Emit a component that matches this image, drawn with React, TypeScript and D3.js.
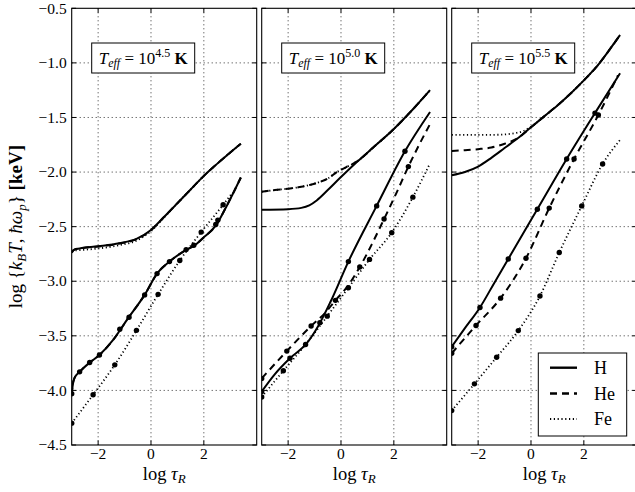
import React from "react";
import * as d3 from "d3";

// ---------- data (log tau_R, log E [keV]) ----------
const xTicks = [-2, 0, 2];
const xTickLabels = ["−2", "0", "2"];
const yTicks = [-0.5, -1.0, -1.5, -2.0, -2.5, -3.0, -3.5, -4.0, -4.5];
const yTickLabels = ["−0.5", "−1.0", "−1.5", "−2.0", "−2.5", "−3.0", "−3.5", "−4.0", "−4.5"];
const teffExponents = ["4.5", "5.0", "5.5"];
const speciesNames = ["H", "He", "Fe"];

// Panel 1: Teff = 10^4.5 K
const p1_H_kT = [[-3, -2.74], [-2.9, -2.71], [-2.7, -2.7], [-2, -2.68], [-1.2, -2.652], [-0.55, -2.612], [0, -2.53], [0.5, -2.41], [1, -2.285], [1.5, -2.16], [2, -2.035], [2.5, -1.925], [3, -1.82], [3.4, -1.74]];
const p1_He_kT = [[-3, -2.735], [-2.9, -2.71], [-2.7, -2.7], [-2, -2.682], [-1.2, -2.655], [-0.55, -2.615], [0, -2.532], [0.5, -2.41], [1, -2.285], [1.5, -2.16], [2, -2.035], [2.5, -1.925], [3, -1.82], [3.4, -1.74]];
const p1_Fe_kT = [[-3, -2.72], [-2.7, -2.715], [-2, -2.7], [-1.2, -2.67], [-0.55, -2.628], [0, -2.54], [0.5, -2.415], [1, -2.285], [1.5, -2.16], [2, -2.035], [2.5, -1.925], [3, -1.82], [3.4, -1.74]];
const p1_H_wp = [[-3, -4.05], [-2.97, -3.97], [-2.9, -3.89], [-2.7, -3.83], [-2.32, -3.745], [-1.95, -3.675], [-1.44, -3.54], [-0.87, -3.34], [-0.24, -3.125], [0.23, -2.93], [0.7, -2.82], [1.33, -2.713], [1.65, -2.672], [1.96, -2.606], [2.47, -2.484], [2.85, -2.317], [3.17, -2.164], [3.4, -2.05]];
const p1_He_wp = [[-3, -4.04], [-2.97, -3.96], [-2.9, -3.89], [-2.7, -3.83], [-2.32, -3.745], [-1.95, -3.675], [-1.44, -3.54], [-0.87, -3.34], [-0.24, -3.125], [0.23, -2.93], [0.7, -2.82], [1.33, -2.713], [1.65, -2.672], [1.96, -2.606], [2.47, -2.484], [2.85, -2.317], [3.17, -2.164], [3.4, -2.05]];
const p1_Fe_wp = [[-3, -4.3], [-2.19, -4.04], [-1.37, -3.766], [-0.55, -3.45], [0.27, -3.12], [1.09, -2.81], [1.9, -2.55], [2.73, -2.3], [3.05, -2.2]];
const p1_H_mk = [[-3, -4.03], [-1.95, -3.675], [-0.83, -3.33], [0.23, -2.93], [1.33, -2.71], [2.45, -2.48]];
const p1_He_mk = [[-2.7, -3.83], [-2.32, -3.745], [-1.18, -3.44], [-0.24, -3.125], [0.7, -2.82], [1.62, -2.67], [2.53, -2.44]];
const p1_Fe_mk = [[-3, -4.3], [-2.19, -4.04], [-1.37, -3.766], [-0.55, -3.45], [0.27, -3.12], [1.09, -2.81], [1.9, -2.55], [2.73, -2.3]];

// Panel 2: Teff = 10^5.0 K
const p2_H_kT = [[-3, -2.345], [-2, -2.34], [-1.5, -2.328], [-1.2, -2.305], [-0.92, -2.26], [-0.5, -2.165], [-0.04, -2.055], [0.59, -1.91], [1.29, -1.76], [1.98, -1.61], [2.74, -1.42], [3.37, -1.25]];
const p2_He_kT = [[-3, -2.18], [-2.5, -2.165], [-1.93, -2.15], [-1.5, -2.135], [-0.92, -2.1], [-0.5, -2.06], [-0.16, -2.0], [0.2, -1.955], [0.59, -1.905], [1.29, -1.76], [1.98, -1.61], [2.74, -1.42], [3.37, -1.25]];
const p2_Fe_kT = [[-3, -2.18], [-2.5, -2.165], [-1.93, -2.15], [-1.5, -2.135], [-0.92, -2.1], [-0.5, -2.06], [-0.16, -2.0], [0.2, -1.955], [0.59, -1.905], [1.29, -1.76], [1.98, -1.61], [2.74, -1.42], [3.37, -1.25]];
const p2_H_wp = [[-3, -4.01], [-2.5, -3.85], [-1.93, -3.705], [-1.3, -3.57], [-0.86, -3.41], [-0.4, -3.19], [0.28, -2.82], [1.35, -2.31], [2.42, -1.81], [3.37, -1.45]];
const p2_He_wp = [[-3, -3.89], [-2.05, -3.64], [-1.13, -3.41], [-0.6, -3.29], [-0.21, -3.175], [0.24, -3.05], [0.71, -2.87], [1.17, -2.66], [1.63, -2.43], [2.1, -2.19], [2.55, -1.95], [3.0, -1.73], [3.37, -1.56]];
const p2_Fe_wp = [[-3, -4.06], [-2.18, -3.82], [-1.34, -3.58], [-0.52, -3.32], [0.28, -3.06], [1.08, -2.8], [1.92, -2.555], [2.72, -2.23], [3.37, -1.92]];
const p2_H_mk = [[-3, -4.01], [-1.93, -3.705], [-0.8, -3.38], [0.28, -2.82], [1.35, -2.31], [2.42, -1.81]];
const p2_He_mk = [[-3, -3.89], [-2.05, -3.64], [-1.13, -3.41], [-0.21, -3.175], [0.71, -2.87], [1.63, -2.43], [2.55, -1.95]];
const p2_Fe_mk = [[-3, -4.06], [-2.18, -3.82], [-1.34, -3.58], [-0.52, -3.32], [0.28, -3.06], [1.08, -2.8], [1.92, -2.555], [2.72, -2.23]];

// Panel 3: Teff = 10^5.5 K
const p3_H_kT = [[-3, -2.03], [-2.5, -2.0], [-2, -1.95], [-1.5, -1.87], [-1, -1.78], [-0.5, -1.69], [0, -1.59], [0.5, -1.49], [1, -1.39], [1.5, -1.28], [2, -1.16], [2.5, -1.03], [3, -0.87], [3.37, -0.745]];
const p3_He_kT = [[-3, -1.807], [-2.5, -1.8], [-2, -1.79], [-1.5, -1.775], [-1.05, -1.745], [-0.75, -1.72], [-0.5, -1.69], [0, -1.59], [0.5, -1.49], [1, -1.39], [1.5, -1.28], [2, -1.16], [2.5, -1.03], [3, -0.87], [3.37, -0.745]];
const p3_Fe_kT = [[-3, -1.66], [-2, -1.66], [-1.2, -1.658], [-0.54, -1.64], [-0.3, -1.625], [-0.1, -1.6], [0.1, -1.57], [0.3, -1.53], [0.5, -1.49], [1, -1.39], [1.5, -1.28], [2, -1.16], [2.5, -1.03], [3, -0.87], [3.37, -0.745]];
const p3_H_wp = [[-3, -3.6], [-2.5, -3.43], [-1.93, -3.24], [-1.4, -3.02], [-0.86, -2.796], [0.24, -2.34], [1.35, -1.88], [2.42, -1.46], [3.37, -1.095]];
const p3_He_wp = [[-3, -3.66], [-2.08, -3.405], [-1.15, -3.155], [-0.19, -2.79], [0.69, -2.33], [1.63, -1.88], [2.55, -1.477], [3.3, -1.11]];
const p3_Fe_wp = [[-3, -4.185], [-2.14, -3.94], [-1.3, -3.696], [-0.48, -3.452], [0.34, -3.135], [1.07, -2.737], [1.92, -2.31], [2.71, -1.926], [3.37, -1.706]];
const p3_H_mk = [[-3, -3.6], [-1.93, -3.24], [-0.86, -2.796], [0.24, -2.34], [1.35, -1.88], [2.42, -1.46]];
const p3_He_mk = [[-3, -3.66], [-2.08, -3.405], [-1.15, -3.155], [-0.19, -2.79], [0.69, -2.33], [1.63, -1.88], [2.55, -1.477]];
const p3_Fe_mk = [[-3, -4.185], [-2.14, -3.94], [-1.3, -3.696], [-0.48, -3.452], [0.34, -3.135], [1.07, -2.737], [1.92, -2.31], [2.71, -1.926]];

const panelData = [
  { exp: teffExponents[0], kT: [p1_H_kT, p1_He_kT, p1_Fe_kT], wp: [p1_H_wp, p1_He_wp, p1_Fe_wp], mk: [p1_H_mk, p1_He_mk, p1_Fe_mk] },
  { exp: teffExponents[1], kT: [p2_H_kT, p2_He_kT, p2_Fe_kT], wp: [p2_H_wp, p2_He_wp, p2_Fe_wp], mk: [p2_H_mk, p2_He_mk, p2_Fe_mk] },
  { exp: teffExponents[2], kT: [p3_H_kT, p3_He_kT, p3_Fe_kT], wp: [p3_H_wp, p3_He_wp, p3_Fe_wp], mk: [p3_H_mk, p3_He_mk, p3_Fe_mk] },
];

// ---------- layout & style ----------
const W = 635, H = 492;
const panelLefts = [71.7, 261.7, 451.7];
const panelW = 185;
const top = 8.3, bottom = 445;
const FONT = "Liberation Serif, DejaVu Serif, serif";
const txt = { fontFamily: FONT, whiteSpace: "pre" as const };
const lineStyles = [
  { dash: null, width: 2 },
  { dash: "7,5", width: 2 },
  { dash: "1.2,2.6", width: 1.8 },
];
const drawOrder = [2, 1, 0];

function Panel({ idx, data }) {
  const left = panelLefts[idx];
  const x = d3.scaleLinear().domain([-3, 4]).range([left, left + panelW]);
  const y = d3.scaleLinear().domain([-4.5, -0.5]).range([bottom, top]);
  const line = d3.line().x((d) => x(d[0])).y((d) => y(d[1])).curve(d3.curveMonotoneX);
  const clipId = `clip${idx}`;
  const tl = 4.4;
  const boxX = left + 20, boxY = 43, boxW = 103, boxH = 30;
  return (
    <g>
      <defs>
        <clipPath id={clipId}>
          <rect x={left} y={top} width={panelW} height={bottom - top} />
        </clipPath>
      </defs>
      <rect x={left} y={top} width={panelW} height={bottom - top} fill="#fff" />
      <g stroke="#000" strokeWidth={0.8} strokeDasharray="1,3">
        {xTicks.map((t) => (
          <line key={"gx" + t} x1={x(t)} x2={x(t)} y1={top} y2={bottom} />
        ))}
        {yTicks.slice(1, -1).map((t) => (
          <line key={"gy" + t} x1={left} x2={left + panelW} y1={y(t)} y2={y(t)} />
        ))}
      </g>
      <g clipPath={`url(#${clipId})`} fill="none" stroke="#000">
        {drawOrder.map((s) => (
          <g key={"c" + s}>
            <path d={line(data.kT[s])} strokeWidth={lineStyles[s].width} strokeDasharray={lineStyles[s].dash || undefined} />
            <path d={line(data.wp[s])} strokeWidth={lineStyles[s].width} strokeDasharray={lineStyles[s].dash || undefined} />
          </g>
        ))}
        {drawOrder.map((s) =>
          data.mk[s].map((d, i) => <circle key={"m" + s + "-" + i} cx={x(d[0])} cy={y(d[1])} r={2.7} fill="#000" stroke="none" />)
        )}
      </g>
      <rect x={left} y={top} width={panelW} height={bottom - top} fill="none" stroke="#000" strokeWidth={1.1} />
      <g stroke="#000" strokeWidth={1}>
        {xTicks.map((t) => (
          <g key={"tx" + t}>
            <line x1={x(t)} x2={x(t)} y1={bottom} y2={bottom - tl} />
            <line x1={x(t)} x2={x(t)} y1={top} y2={top + tl} />
          </g>
        ))}
        {yTicks.map((t) => (
          <g key={"ty" + t}>
            <line x1={left} x2={left + tl} y1={y(t)} y2={y(t)} />
            <line x1={left + panelW} x2={left + panelW - tl} y1={y(t)} y2={y(t)} />
          </g>
        ))}
      </g>
      {xTicks.map((t, i) => (
        <text key={"lx" + t} x={x(t)} y={459} textAnchor="middle" fontSize={15.5} style={txt}>
          {xTickLabels[i]}
        </text>
      ))}
      {idx === 0 &&
        yTicks.map((t, i) => (
          <text key={"ly" + t} x={left - 5} y={y(t) + 5.2} textAnchor="end" fontSize={15.5} style={txt}>
            {yTickLabels[i]}
          </text>
        ))}
      <text x={left + panelW / 2} y={479.5} textAnchor="middle" fontSize={18.5} style={txt}>
        <tspan>log </tspan>
        <tspan fontStyle="italic">τ</tspan>
        <tspan fontStyle="italic" fontSize={13} dy={3}>R</tspan>
      </text>
      <rect x={boxX} y={boxY} width={boxW} height={boxH} fill="#fff" stroke="#000" strokeWidth={1} />
      <text x={boxX + boxW / 2} y={63.5} textAnchor="middle" fontSize={17} style={txt}>
        <tspan fontStyle="italic">T</tspan>
        <tspan fontStyle="italic" fontSize={12} dy={3.5}>eff</tspan>
        <tspan dy={-3.5}> = 10</tspan>
        <tspan fontSize={12} dy={-7}>{data.exp}</tspan>
        <tspan dy={7}> </tspan>
        <tspan fontWeight="bold">K</tspan>
      </text>
    </g>
  );
}

function Legend() {
  const bx = 538.3, by = 353, bw = 88.4, bh = 83;
  const rows = [367.7, 393.5, 419];
  return (
    <g>
      <rect x={bx} y={by} width={bw} height={bh} fill="#fff" stroke="#000" strokeWidth={1} />
      {speciesNames.map((name, i) => (
        <g key={name}>
          <line x1={550} x2={577} y1={rows[i]} y2={rows[i]} stroke="#000" strokeWidth={lineStyles[i].width + 0.4} strokeDasharray={lineStyles[i].dash || undefined} />
          <text x={594} y={rows[i] + 6} fontSize={18} style={txt}>
            {name}
          </text>
        </g>
      ))}
    </g>
  );
}

export default function App() {
  return (
    <svg width={W} height={H} viewBox={`0 0 ${W} ${H}`} style={{ position: "absolute", left: 0, top: 0, background: "#fff" }}>
      <rect x={0} y={0} width={W} height={H} fill="#fff" />
      {panelData.map((d, i) => (
        <Panel key={i} idx={i} data={d} />
      ))}
      <Legend />
      <text transform={`translate(22,${(top + bottom) / 2}) rotate(-90)`} textAnchor="middle" fontSize={19} style={txt}>
        <tspan>log {"{"}</tspan>
        <tspan fontStyle="italic">k</tspan>
        <tspan fontStyle="italic" fontSize={13} dy={3.5}>B</tspan>
        <tspan fontStyle="italic" dy={-3.5}>T</tspan>
        <tspan>, </tspan>
        <tspan fontStyle="italic">ħω</tspan>
        <tspan fontStyle="italic" fontSize={13} dy={3.5}>p</tspan>
        <tspan dy={-3.5}>{"} "}</tspan>
        <tspan fontWeight="bold">[keV]</tspan>
      </text>
    </svg>
  );
}
